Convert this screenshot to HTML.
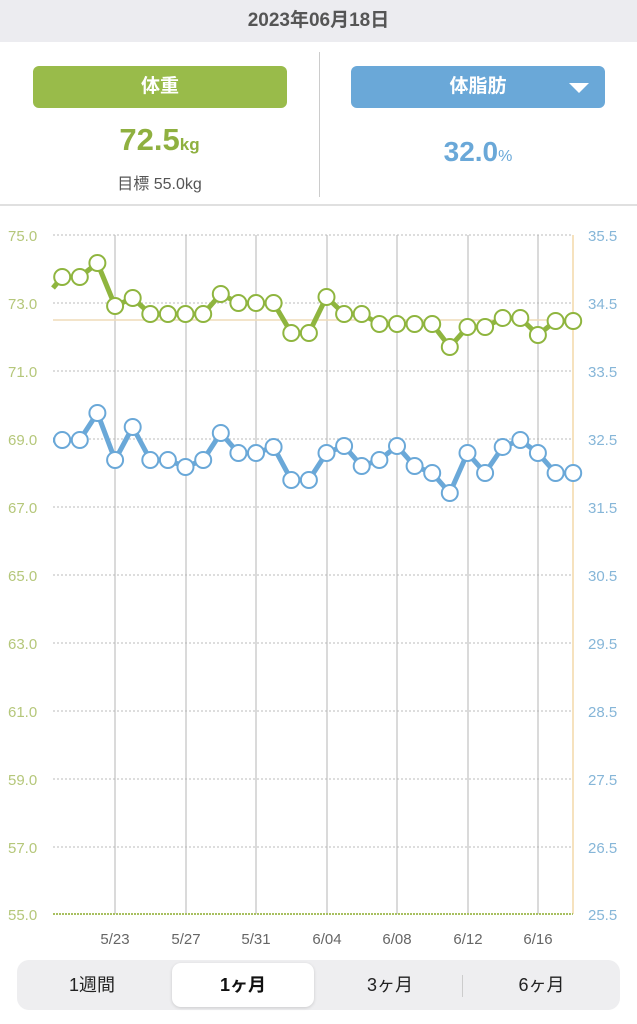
<!DOCTYPE html>
<html><head><meta charset="utf-8"><style>
body{margin:0;width:637px;height:1024px;background:#fff;font-family:"Liberation Sans","Noto Sans CJK JP",sans-serif;position:relative;overflow:hidden}
.hdr{position:absolute;left:0;top:0;width:637px;height:42px;background:#ececf0;text-align:center;line-height:42px;font-size:19px;color:#555;font-weight:bold}
.btn{position:absolute;top:66px;height:42px;border-radius:6px;color:#fff;font-size:19px;font-weight:bold;text-align:center;line-height:42px}
.abs{position:absolute}
</style></head><body>
<div class="hdr">2023年06月18日</div>
<div class="btn" style="left:33px;width:254px;background:#99bb4a">体重</div>
<div class="btn" style="left:351px;width:254px;background:#6aa8d8">体脂肪<span style="position:absolute;right:16px;top:17px;width:0;height:0;border-left:10px solid transparent;border-right:10px solid transparent;border-top:10px solid #fff"></span></div>
<div class="abs" style="left:319px;top:52px;width:1px;height:145px;background:#ccc"></div>
<div class="abs" style="left:0;top:204px;width:637px;height:2px;background:#e0e0e0"></div>
<div class="abs" style="left:0;width:319px;top:122px;text-align:center;color:#8fb040;font-weight:bold;font-size:31px">72.5<span style="font-size:17px">kg</span></div>
<div class="abs" style="left:0;width:319px;top:170px;text-align:center;color:#555;font-size:16px">目標 55.0kg</div>
<div class="abs" style="left:319px;width:318px;top:136px;text-align:center;color:#6aa8d8;font-weight:bold;font-size:28px">32.0<span style="font-size:16px;font-weight:normal">%</span></div>
<svg id="c" class="abs" style="left:0;top:0" width="637" height="960"></svg>
<div class="abs" style="left:17px;top:960px;width:603px;height:50px;background:#eeeef0;border-radius:12px"></div>
<div class="abs" style="left:172px;top:963px;width:142px;height:44px;background:#fff;border-radius:9px;box-shadow:0 1px 3px rgba(0,0,0,.15)"></div>
<div class="abs" style="left:462px;top:975px;width:1px;height:22px;background:#ccc"></div>
<div class="abs" style="left:17px;top:960px;width:150px;line-height:50px;text-align:center;font-size:18px;color:#222">1週間</div>
<div class="abs" style="left:172px;top:960px;width:142px;line-height:50px;text-align:center;font-size:18px;color:#111;font-weight:bold">1ヶ月</div>
<div class="abs" style="left:318px;top:960px;width:144px;line-height:50px;text-align:center;font-size:18px;color:#222">3ヶ月</div>
<div class="abs" style="left:463px;top:960px;width:157px;line-height:50px;text-align:center;font-size:18px;color:#222">6ヶ月</div>
<script>
var s='';
var ys=[235,303,371,439,507,575,643,711,779,847];
var L=["75.0","73.0","71.0","69.0","67.0","65.0","63.0","61.0","59.0","57.0"],R=["35.5","34.5","33.5","32.5","31.5","30.5","29.5","28.5","27.5","26.5"];
ys.forEach(function(y,i){s+='<line x1="53" y1="'+y+'" x2="573" y2="'+y+'" stroke="#bbb" stroke-width="1" stroke-dasharray="2,2"/>';
s+='<text x="8" y="'+(y+6)+'" font-size="15" fill="#b5c77a">'+L[i]+'</text><text x="588" y="'+(y+6)+'" font-size="15" fill="#86b6d8">'+R[i]+'</text>';});
s+='<text x="8" y="920" font-size="15" fill="#b5c77a">55.0</text><text x="588" y="920" font-size="15" fill="#86b6d8">25.5</text>';
var vx=[115,186,256,327,397,468,538],dl=["5/23","5/27","5/31","6/04","6/08","6/12","6/16"];
vx.forEach(function(x,i){s+='<line x1="'+x+'" y1="235" x2="'+x+'" y2="914" stroke="#b5b5b5" stroke-width="1"/><text x="'+x+'" y="944" font-size="15" fill="#666" text-anchor="middle">'+dl[i]+'</text>';});
s+='<line x1="573" y1="235" x2="573" y2="914" stroke="#f3d9a8" stroke-width="1.5"/>';
s+='<line x1="53" y1="914" x2="573" y2="914" stroke="#a8c060" stroke-width="2" stroke-dasharray="2,1"/>';
s+='<line x1="53" y1="320" x2="573" y2="320" stroke="#efdcb8" stroke-width="1.5"/>';
var g=[277,277,263,306,298,314,314,314,314,294,303,303,303,333,333,297,314,314,324,324,324,324,347,327,327,318,318,335,321,321];
var b=[440,440,413,460,427,460,460,467,460,433,453,453,447,480,480,453,446,466,460,446,466,473,493,453,473,447,440,453,473,473];
function ser(a,c,sy){var p='M53 '+sy;a.forEach(function(y,i){p+=' L'+(62.2+i*17.62).toFixed(1)+' '+y;});
s+='<path d="'+p+'" fill="none" stroke="'+c+'" stroke-width="5" stroke-linejoin="round"/>';
a.forEach(function(y,i){s+='<circle cx="'+(62.2+i*17.62).toFixed(1)+'" cy="'+y+'" r="8" fill="#fff" stroke="'+c+'" stroke-width="2"/>';});}
ser(g,'#8fb53f',288);ser(b,'#6aa8d8',440);
document.getElementById('c').innerHTML=s;
</script>
</body></html>
